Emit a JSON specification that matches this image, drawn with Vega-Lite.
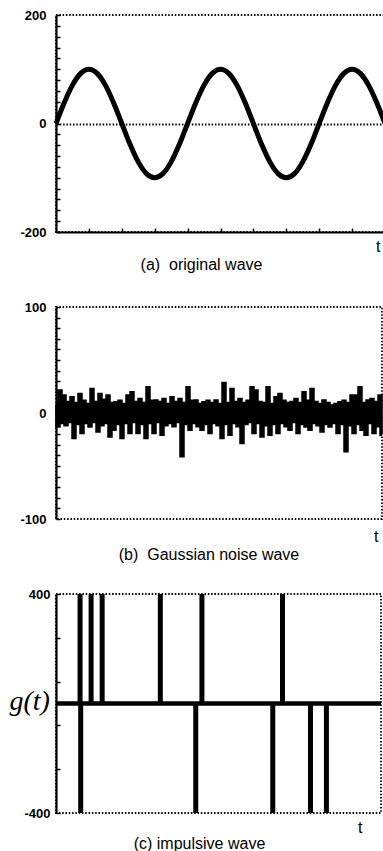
{
  "$schema": "https://vega.github.io/schema/vega-lite/v6.json",
  "padding": {"left": 8, "top": 8, "right": 0, "bottom": 0},
  "background": "white",
  "bounds": "flush",
  "spacing": 75,
  "config": {
    "font": "Liberation Sans",
    "view": {"stroke": "black", "strokeWidth": 1.8, "strokeDash": [1.5, 1.8]},
    "axis": {"domainColor": "black", "domainWidth": 2.2, "tickColor": "black", "tickWidth": 1.5, "labelColor": "black", "labelFont": "Liberation Sans", "labelFontSize": 13, "labelFontWeight": "bold", "titleColor": "black", "titleFont": "Liberation Sans", "grid": false, "labelOverlap": false},
    "title": {"color": "black", "font": "Liberation Sans", "fontSize": 16, "fontWeight": "normal"}
  },
  "vconcat": [
    {
      "width": 329,
      "height": 217,
      "title": {"text": "(a)\u00a0 original wave", "orient": "bottom", "anchor": "middle", "offset": 3, "dx": -19},
      "data": {"values": [
        {"t": 0, "g": 0}, {"t": 0.25, "g": 38.27}, {"t": 0.5, "g": 70.71}, {"t": 0.75, "g": 92.39}, {"t": 1, "g": 100}, {"t": 1.25, "g": 92.39}, {"t": 1.5, "g": 70.71}, {"t": 1.75, "g": 38.27},
        {"t": 2, "g": 0}, {"t": 2.25, "g": -38.27}, {"t": 2.5, "g": -70.71}, {"t": 2.75, "g": -92.39}, {"t": 3, "g": -100}, {"t": 3.25, "g": -92.39}, {"t": 3.5, "g": -70.71}, {"t": 3.75, "g": -38.27},
        {"t": 4, "g": 0}, {"t": 4.25, "g": 38.27}, {"t": 4.5, "g": 70.71}, {"t": 4.75, "g": 92.39}, {"t": 5, "g": 100}, {"t": 5.25, "g": 92.39}, {"t": 5.5, "g": 70.71}, {"t": 5.75, "g": 38.27},
        {"t": 6, "g": 0}, {"t": 6.25, "g": -38.27}, {"t": 6.5, "g": -70.71}, {"t": 6.75, "g": -92.39}, {"t": 7, "g": -100}, {"t": 7.25, "g": -92.39}, {"t": 7.5, "g": -70.71}, {"t": 7.75, "g": -38.27},
        {"t": 8, "g": 0}, {"t": 8.25, "g": 38.27}, {"t": 8.5, "g": 70.71}, {"t": 8.75, "g": 92.39}, {"t": 9, "g": 100}, {"t": 9.25, "g": 92.39}, {"t": 9.5, "g": 70.71}, {"t": 9.75, "g": 38.27},
        {"t": 10, "g": 0}
      ]},
      "mark": {"type": "line", "color": "black", "strokeWidth": 5, "interpolate": "monotone"},
      "encoding": {
        "x": {"field": "t", "type": "quantitative", "scale": {"domain": [0, 10], "nice": false, "zero": false},
              "axis": {"values": [1, 2, 3, 4, 5, 6, 7, 8, 9], "labels": false, "tickSize": -4, "title": "t", "titleAnchor": "end", "titleAlign": "right", "titleX": 324, "titleY": 19, "titleBaseline": "alphabetic", "titleFontSize": 16, "titleFontWeight": "normal"}},
        "y": {"field": "g", "type": "quantitative", "scale": {"domain": [-200, 200], "nice": false},
              "axis": {"values": [-200, -180, -160, -140, -120, -100, -80, -60, -40, -20, 0, 20, 40, 60, 80, 100, 120, 140, 160, 180, 200], "labelExpr": "datum.value == 200 ? '200' : datum.value == 0 ? '0' : datum.value == -200 ? '-200' : ''", "labelOverlap": false, "tickSize": -4, "labelPadding": 14, "title": null,
                       "grid": true, "gridColor": "black", "gridWidth": 1.8, "gridDash": [1.5, 1.8], "gridOpacity": {"condition": {"test": "datum.value == 0", "value": 1}, "value": 0}}}
      }
    },
    {
      "width": 326,
      "height": 212,
      "title": {"text": "(b)\u00a0 Gaussian noise wave", "orient": "bottom", "anchor": "middle", "offset": 3, "dx": -10},
      "data": {"values": [
        {"t": 0, "g": 8}, {"t": 2, "g": -12.2}, {"t": 4, "g": 20.7}, {"t": 6, "g": -9}, {"t": 8, "g": 16}, {"t": 10, "g": -11}, {"t": 12, "g": 10}, {"t": 14, "g": -8}, {"t": 16, "g": 14.4}, {"t": 18, "g": -23.2},
        {"t": 20, "g": 9}, {"t": 22, "g": -10}, {"t": 24, "g": 17.5}, {"t": 26, "g": -18.5}, {"t": 28, "g": 11}, {"t": 30, "g": -9}, {"t": 32, "g": 8}, {"t": 34, "g": -12.2}, {"t": 36, "g": 22.2}, {"t": 38, "g": -8},
        {"t": 40, "g": 10}, {"t": 42, "g": -16.9}, {"t": 44, "g": 17.5}, {"t": 46, "g": -11}, {"t": 48, "g": 12}, {"t": 50, "g": -9}, {"t": 52, "g": 16}, {"t": 54, "g": -21.6}, {"t": 56, "g": 9}, {"t": 58, "g": -15.3},
        {"t": 60, "g": 9.7}, {"t": 62, "g": -10}, {"t": 64, "g": 11}, {"t": 66, "g": -23.2}, {"t": 68, "g": 8}, {"t": 70, "g": -9}, {"t": 72, "g": 16}, {"t": 74, "g": -18.5}, {"t": 76, "g": 19.1}, {"t": 78, "g": -8},
        {"t": 80, "g": 10}, {"t": 82, "g": -18.5}, {"t": 84, "g": 12.8}, {"t": 86, "g": -10}, {"t": 88, "g": 9}, {"t": 90, "g": -23.2}, {"t": 92, "g": 23.8}, {"t": 94, "g": -9}, {"t": 96, "g": 11}, {"t": 98, "g": -18.5},
        {"t": 100, "g": 11.3}, {"t": 102, "g": -8}, {"t": 104, "g": 10}, {"t": 106, "g": -20}, {"t": 108, "g": 12.8}, {"t": 110, "g": -11}, {"t": 112, "g": 8}, {"t": 114, "g": -9}, {"t": 116, "g": 14.4}, {"t": 118, "g": -12},
        {"t": 120, "g": 10}, {"t": 122, "g": -8}, {"t": 124, "g": 12.8}, {"t": 126, "g": -40.4}, {"t": 128, "g": 9}, {"t": 130, "g": -10}, {"t": 132, "g": 23.8}, {"t": 134, "g": -15.3}, {"t": 136, "g": 11}, {"t": 138, "g": -9},
        {"t": 140, "g": 11.3}, {"t": 142, "g": -12}, {"t": 144, "g": 8}, {"t": 146, "g": -15.3}, {"t": 148, "g": 9.7}, {"t": 150, "g": -10}, {"t": 152, "g": 11}, {"t": 154, "g": -18.5}, {"t": 156, "g": 9}, {"t": 158, "g": -9},
        {"t": 160, "g": 11.3}, {"t": 162, "g": -11}, {"t": 164, "g": 8}, {"t": 166, "g": -23.2}, {"t": 168, "g": 27.9}, {"t": 170, "g": -10}, {"t": 172, "g": 9}, {"t": 174, "g": -20}, {"t": 176, "g": 22.2}, {"t": 178, "g": -9},
        {"t": 180, "g": 10}, {"t": 182, "g": -12}, {"t": 184, "g": 12.8}, {"t": 186, "g": -27.9}, {"t": 188, "g": 9}, {"t": 190, "g": -10}, {"t": 192, "g": 11}, {"t": 194, "g": -8}, {"t": 196, "g": 23.8}, {"t": 198, "g": -18.5},
        {"t": 200, "g": 20.7}, {"t": 202, "g": -9}, {"t": 204, "g": 10}, {"t": 206, "g": -21.6}, {"t": 208, "g": 9}, {"t": 210, "g": -11}, {"t": 212, "g": 23.8}, {"t": 214, "g": -20}, {"t": 216, "g": 8}, {"t": 218, "g": -10},
        {"t": 220, "g": 14.4}, {"t": 222, "g": -18.5}, {"t": 224, "g": 17.5}, {"t": 226, "g": -9}, {"t": 228, "g": 11}, {"t": 230, "g": -12}, {"t": 232, "g": 9}, {"t": 234, "g": -15.3}, {"t": 236, "g": 10}, {"t": 238, "g": -8},
        {"t": 240, "g": 12.8}, {"t": 242, "g": -18.5}, {"t": 244, "g": 9}, {"t": 246, "g": -10}, {"t": 248, "g": 19.1}, {"t": 250, "g": -12.2}, {"t": 252, "g": 11}, {"t": 254, "g": -15.3}, {"t": 256, "g": 22.2}, {"t": 258, "g": -9},
        {"t": 260, "g": 10}, {"t": 262, "g": -11}, {"t": 264, "g": 8}, {"t": 266, "g": -16.9}, {"t": 268, "g": 11.3}, {"t": 270, "g": -10}, {"t": 272, "g": 9}, {"t": 274, "g": -12.2}, {"t": 276, "g": 6.6}, {"t": 278, "g": -9},
        {"t": 280, "g": 8}, {"t": 282, "g": -18.5}, {"t": 284, "g": 9.7}, {"t": 286, "g": -10}, {"t": 288, "g": 11}, {"t": 290, "g": -35.7}, {"t": 292, "g": 9}, {"t": 294, "g": -11}, {"t": 296, "g": 16}, {"t": 298, "g": -18.5},
        {"t": 300, "g": 16}, {"t": 302, "g": -10}, {"t": 304, "g": 23.8}, {"t": 306, "g": -15.3}, {"t": 308, "g": 9}, {"t": 310, "g": -20}, {"t": 312, "g": 11.3}, {"t": 314, "g": -9}, {"t": 316, "g": 12.8}, {"t": 318, "g": -18.5},
        {"t": 320, "g": 10}, {"t": 322, "g": -12}, {"t": 324, "g": 16}, {"t": 326, "g": -20}
      ]},
      "mark": {"type": "line", "color": "black", "strokeWidth": 3.5, "interpolate": "step"},
      "encoding": {
        "x": {"field": "t", "type": "quantitative", "scale": {"domain": [0, 326], "nice": false, "zero": false},
              "axis": {"domain": false, "ticks": false, "labels": false, "title": "t", "titleAnchor": "end", "titleAlign": "right", "titleX": 322, "titleY": 22, "titleBaseline": "alphabetic", "titleFontSize": 16, "titleFontWeight": "normal"}},
        "y": {"field": "g", "type": "quantitative", "scale": {"domain": [-100, 100], "nice": false},
              "axis": {"values": [-100, -90, -80, -70, -60, -50, -40, -30, -20, -10, 0, 10, 20, 30, 40, 50, 60, 70, 80, 90, 100], "labelExpr": "datum.value == 100 ? '100' : datum.value == 0 ? '0' : datum.value == -100 ? '-100' : ''", "labelOverlap": false, "tickSize": -4, "labelPadding": 14, "title": null}}
      }
    },
    {
      "width": 325,
      "height": 219,
      "title": {"text": "(c) impulsive wave", "orient": "bottom", "anchor": "middle", "offset": 1, "dx": -19},
      "layer": [
        {
          "data": {"values": [{"g": 0}]},
          "mark": {"type": "rule", "color": "black", "strokeWidth": 4.5},
          "encoding": {"y": {"field": "g", "type": "quantitative", "axis": {"values": [-400, -360, -320, -280, -240, -200, -160, -120, -80, -40, 0, 40, 80, 120, 160, 200, 240, 280, 320, 360, 400], "labelExpr": "datum.value == 400 ? '400' : datum.value == 0 ? '0' : datum.value == -400 ? '-400' : ''", "labelOverlap": false, "tickSize": -4, "labelPadding": 10,
                           "title": "g(t)", "titleAngle": 0, "titleFont": "Liberation Serif", "titleFontStyle": "italic", "titleFontWeight": "normal", "titleFontSize": 28, "titleAlign": "left", "titleX": -47, "titleY": 115, "titleBaseline": "alphabetic"}}}
        },
        {
          "data": {"values": [
            {"t": 0.74, "g": 400}, {"t": 0.76, "g": -400}, {"t": 1.08, "g": 400}, {"t": 1.42, "g": 400}, {"t": 3.21, "g": 400}, {"t": 4.3, "g": -400},
            {"t": 4.49, "g": 400}, {"t": 6.67, "g": -400}, {"t": 6.97, "g": 400}, {"t": 7.83, "g": -400}, {"t": 8.32, "g": -400}
          ]},
          "mark": {"type": "rule", "color": "black", "strokeWidth": 5},
          "encoding": {
            "x": {"field": "t", "type": "quantitative", "scale": {"domain": [0, 10], "nice": false, "zero": false},
                  "axis": {"domain": false, "ticks": false, "labels": false, "title": "t", "titleAnchor": "end", "titleAlign": "right", "titleX": 306, "titleY": 19, "titleBaseline": "alphabetic", "titleFontSize": 16, "titleFontWeight": "normal"}},
            "y": {"field": "g", "type": "quantitative", "scale": {"domain": [-400, 400], "nice": false}},
            "y2": {"datum": 0}
          }
        }
      ]
    }
  ]
}
